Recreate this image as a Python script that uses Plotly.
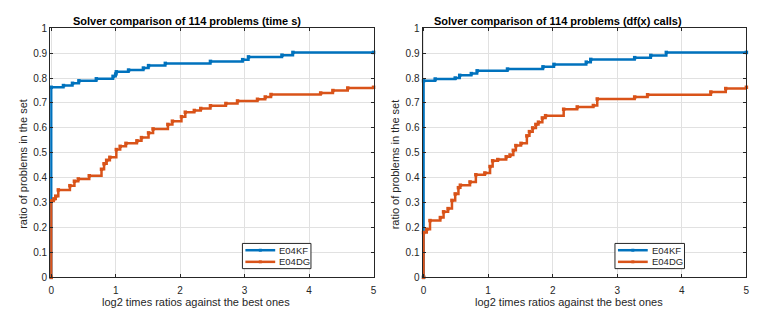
import plotly.graph_objects as go

W, H = 763, 325

# ---------------- data ----------------
x_ticks = [0, 1, 2, 3, 4, 5]
x_labels = ["0", "1", "2", "3", "4", "5"]
y_ticks = [0, 0.1, 0.2, 0.3, 0.4, 0.5, 0.6, 0.7, 0.8, 0.9, 1.0]
y_labels = ["0", "0.1", "0.2", "0.3", "0.4", "0.5", "0.6", "0.7", "0.8", "0.9", "1"]

series_names = ["E04KF", "E04DG"]
titles = ["Solver comparison of 114 problems (time s)",
          "Solver comparison of 114 problems (df(x) calls)"]
x_title = "log2 times ratios against the best ones"
y_title = "ratio of problems in the set"

# left panel: time
time_kf_x = [0, 0, 0.19, 0.33, 0.43, 0.70, 0.96, 1.00, 1.01, 1.20, 1.43, 1.51, 1.77,
             2.47, 2.97, 3.06, 3.58, 3.75, 5]
time_kf_y = [0, 0.763, 0.770, 0.779, 0.789, 0.797, 0.807, 0.816, 0.825, 0.832, 0.840,
             0.850, 0.859, 0.867, 0.874, 0.885, 0.892, 0.903, 0.903]

time_dg_x = [0, 0, 0.04, 0.07, 0.11, 0.29, 0.36, 0.42, 0.59, 0.78, 0.82, 0.86, 0.91,
             1.01, 1.07, 1.16, 1.33, 1.40, 1.51, 1.58, 1.81, 1.88, 2.02, 2.08, 2.22,
             2.32, 2.47, 2.71, 2.89, 3.20, 3.32, 3.41, 4.18, 4.37, 4.60, 5]
time_dg_y = [0, 0.307, 0.315, 0.326, 0.351, 0.368, 0.386, 0.395, 0.408, 0.434, 0.456,
             0.470, 0.482, 0.513, 0.526, 0.538, 0.548, 0.561, 0.580, 0.596, 0.614,
             0.627, 0.645, 0.663, 0.670, 0.678, 0.689, 0.698, 0.708, 0.715, 0.724,
             0.734, 0.740, 0.750, 0.760, 0.763]

# right panel: df(x) calls
calls_kf_x = [0, 0, 0.18, 0.49, 0.56, 0.74, 0.83, 1.30, 1.85, 2.02, 2.52, 2.59, 3.27,
              3.52, 3.76, 5]
calls_kf_y = [0, 0.789, 0.796, 0.800, 0.811, 0.818, 0.829, 0.836, 0.845, 0.855, 0.864,
              0.875, 0.882, 0.891, 0.903, 0.903]

calls_dg_x = [0, 0, 0.05, 0.10, 0.26, 0.31, 0.38, 0.44, 0.49, 0.54, 0.57, 0.72, 0.81,
              0.95, 1.03, 1.07, 1.15, 1.28, 1.34, 1.39, 1.43, 1.51, 1.60, 1.64, 1.69,
              1.74, 1.78, 1.84, 1.89, 2.17, 2.38, 2.63, 2.69, 3.27, 3.47, 4.45, 4.68, 5]
calls_dg_y = [0, 0.180, 0.193, 0.228, 0.240, 0.263, 0.276, 0.309, 0.335, 0.360, 0.370,
              0.383, 0.412, 0.419, 0.445, 0.468, 0.473, 0.484, 0.491, 0.510, 0.529,
              0.538, 0.568, 0.585, 0.600, 0.614, 0.623, 0.640, 0.649, 0.675, 0.684,
              0.690, 0.716, 0.724, 0.733, 0.744, 0.758, 0.763]

# ---------------- styling ----------------
FONT = "Liberation Sans, Arial, Helvetica, sans-serif"
TXT = "#262626"
BLUE = "#0072BD"
ORANGE = "#D95319"
GRID = "#e1e1e1"


def pxx(x):
    return x / W


def pxy(y):
    return 1 - y / H


fig = go.Figure()


def add(xs, ys, color, xa, ya, name):
    fig.add_trace(go.Scatter(
        x=xs, y=ys, mode="lines+markers", name=name, showlegend=False,
        line=dict(color=color, width=2.5, shape="hv"),
        marker=dict(symbol="square", size=3.5, color=color, line=dict(width=0)),
        xaxis=xa, yaxis=ya, cliponaxis=False))


add(time_kf_x, time_kf_y, BLUE, "x", "y", series_names[0])
add(time_dg_x, time_dg_y, ORANGE, "x", "y", series_names[1])
add(calls_kf_x, calls_kf_y, BLUE, "x2", "y2", series_names[0])
add(calls_dg_x, calls_dg_y, ORANGE, "x2", "y2", series_names[1])

common = dict(showline=True, linecolor=TXT, linewidth=1, mirror="ticks",
              ticks="inside", ticklen=3, tickcolor=TXT, tickwidth=1,
              showgrid=True, gridcolor=GRID, gridwidth=1, zeroline=False,
              tickfont=dict(size=10, color=TXT, family=FONT))

panels = [(48.5, 374.0), (423.3, 749.3)]
ytop, ybot = 24.0, 281.0

layout = dict(
    width=W, height=H, margin=dict(l=0, r=0, t=0, b=0),
    paper_bgcolor="white", plot_bgcolor="white", showlegend=False,
    font=dict(family=FONT, color=TXT),
)
for i, (l, r) in enumerate(panels):
    sx = "" if i == 0 else "2"
    layout["xaxis" + sx] = dict(common, domain=[pxx(l), pxx(r)], range=[-0.016, 5],
                                tickvals=x_ticks, ticktext=x_labels,
                                ticklabelstandoff=4, anchor="y" + sx)
    layout["yaxis" + sx] = dict(common, domain=[pxy(ybot), pxy(ytop)], range=[0, 1],
                                tickvals=y_ticks, ticktext=y_labels,
                                anchor="x" + sx)
fig.update_layout(**layout)

annotations = []
shapes = []
title_cx = [186.5, 560.0]
xlab_cx = [195.5, 570.5]
ylab_cx = [21.0, 396.0]
legend_boxes = [(242, 311), (617, 687)]
for i in range(2):
    annotations.append(dict(text="<b>" + titles[i] + "</b>", x=pxx(title_cx[i]), y=pxy(16),
                            xref="paper", yref="paper", xanchor="center", yanchor="middle",
                            showarrow=False, font=dict(size=11, color="black", family=FONT)))
    annotations.append(dict(text=x_title, x=pxx(xlab_cx[i]), y=pxy(306),
                            xref="paper", yref="paper", xanchor="center", yanchor="middle",
                            showarrow=False, font=dict(size=11, color=TXT, family=FONT)))
    annotations.append(dict(text=y_title, x=pxx(ylab_cx[i]), y=pxy(164),
                            xref="paper", yref="paper", xanchor="center", yanchor="middle",
                            textangle=-90, showarrow=False,
                            font=dict(size=11, color=TXT, family=FONT)))
    lx0, lx1 = legend_boxes[i]
    shapes.append(dict(type="rect", xref="paper", yref="paper",
                       x0=pxx(lx0), x1=pxx(lx1), y0=pxy(272), y1=pxy(246),
                       line=dict(color=TXT, width=1), fillcolor="white", layer="above"))
    for j, (col, yy) in enumerate([(BLUE, 253), (ORANGE, 265)]):
        shapes.append(dict(type="line", xref="paper", yref="paper",
                           x0=pxx(lx0 + 3), x1=pxx(lx0 + 33), y0=pxy(yy), y1=pxy(yy),
                           line=dict(color=col, width=2.5), layer="above"))
        shapes.append(dict(type="rect", xref="paper", yref="paper",
                           x0=pxx(lx0 + 16.5), x1=pxx(lx0 + 19.5),
                           y0=pxy(yy + 1.5), y1=pxy(yy - 1.5),
                           line=dict(color=col, width=0), fillcolor=col, layer="above"))
        annotations.append(dict(text=series_names[j], x=pxx(lx0 + 35), y=pxy(yy),
                                xref="paper", yref="paper", xanchor="left",
                                yanchor="middle", showarrow=False,
                                font=dict(size=9.5, color=TXT, family=FONT)))

fig.update_layout(annotations=annotations, shapes=shapes)
fig.write_html("out.html")
